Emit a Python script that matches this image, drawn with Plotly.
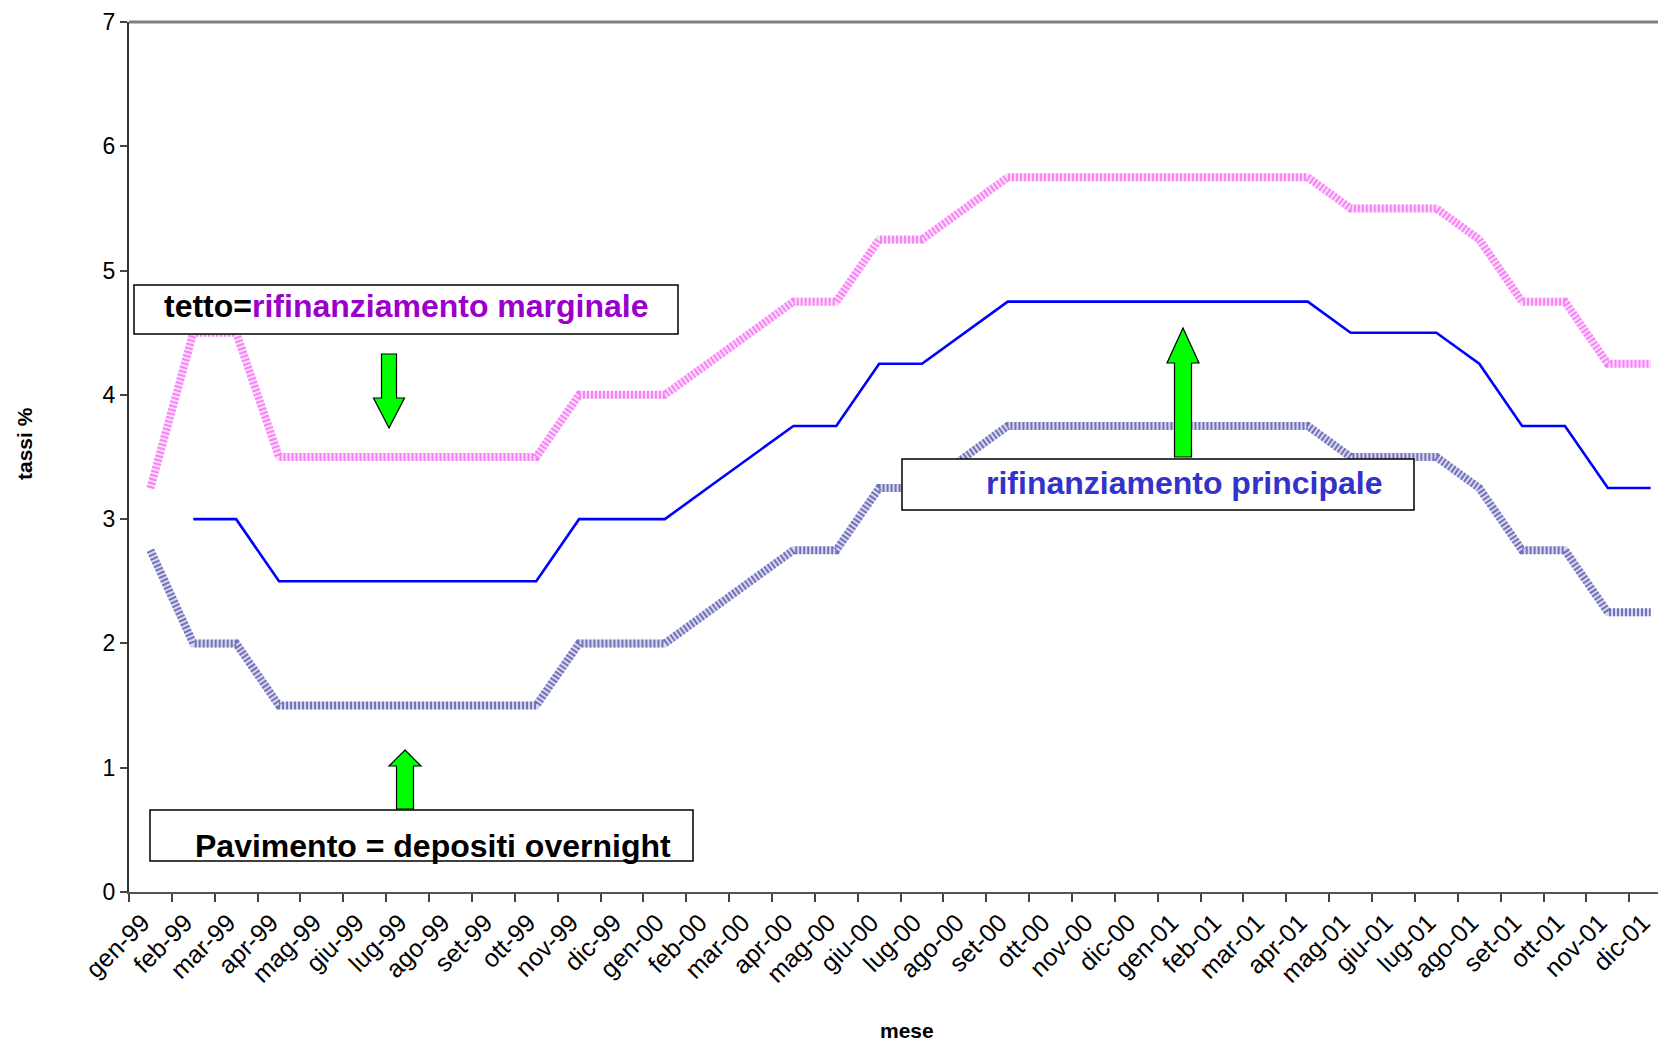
import plotly.graph_objects as go

# Months, Jan 1999 - Dec 2001
mesi = ["gen-99", "feb-99", "mar-99", "apr-99", "mag-99", "giu-99", "lug-99", "ago-99",
        "set-99", "ott-99", "nov-99", "dic-99",
        "gen-00", "feb-00", "mar-00", "apr-00", "mag-00", "giu-00", "lug-00", "ago-00",
        "set-00", "ott-00", "nov-00", "dic-00",
        "gen-01", "feb-01", "mar-01", "apr-01", "mag-01", "giu-01", "lug-01", "ago-01",
        "set-01", "ott-01", "nov-01", "dic-01"]

# Marginal lending facility (ceiling of the corridor)
rifinanziamento_marginale = [3.25, 4.5, 4.5, 3.5, 3.5, 3.5, 3.5, 3.5, 3.5, 3.5, 4.0, 4.0,
                             4.0, 4.25, 4.5, 4.75, 4.75, 5.25, 5.25, 5.5, 5.75, 5.75, 5.75, 5.75,
                             5.75, 5.75, 5.75, 5.75, 5.5, 5.5, 5.5, 5.25, 4.75, 4.75, 4.25, 4.25]

# Main refinancing operations
rifinanziamento_principale = [None, 3.0, 3.0, 2.5, 2.5, 2.5, 2.5, 2.5, 2.5, 2.5, 3.0, 3.0,
                              3.0, 3.25, 3.5, 3.75, 3.75, 4.25, 4.25, 4.5, 4.75, 4.75, 4.75, 4.75,
                              4.75, 4.75, 4.75, 4.75, 4.5, 4.5, 4.5, 4.25, 3.75, 3.75, 3.25, 3.25]

# Deposit facility (floor of the corridor)
depositi_overnight = [2.75, 2.0, 2.0, 1.5, 1.5, 1.5, 1.5, 1.5, 1.5, 1.5, 2.0, 2.0,
                      2.0, 2.25, 2.5, 2.75, 2.75, 3.25, 3.25, 3.5, 3.75, 3.75, 3.75, 3.75,
                      3.75, 3.75, 3.75, 3.75, 3.5, 3.5, 3.5, 3.25, 2.75, 2.75, 2.25, 2.25]

y_ticks = [0, 1, 2, 3, 4, 5, 6, 7]

W, H = 1658, 1045
ML, MR, MT, MB = 129, 0, 22, 153
PW, PH = W - ML - MR, H - MT - MB


def px(x):
    return (x - ML) / PW


def py(y):
    return (H - MB - y) / PH


fig = go.Figure()


# textured "band" lines: pale base plus a fine dashed overlay
def band(values, base, ink):
    fig.add_trace(go.Scatter(x=mesi, y=values, mode="lines",
                             line=dict(color=base, width=8), hoverinfo="skip"))
    fig.add_trace(go.Scatter(x=mesi, y=values, mode="lines",
                             line=dict(color=ink, width=8, dash="2px,2px"), hoverinfo="skip"))


band(rifinanziamento_marginale, "#FCDDFC", "rgba(245,40,245,0.5)")
fig.add_trace(go.Scatter(x=mesi, y=rifinanziamento_principale, mode="lines",
                         line=dict(color="#0000FF", width=2.6), connectgaps=False))
band(depositi_overnight, "#D8D8EC", "rgba(30,30,150,0.55)")

shapes = []
annotations = []

# plot frame: top border
shapes.append(dict(type="line", xref="paper", yref="paper", x0=0, x1=1, y0=1, y1=1,
                   line=dict(color="#808080", width=3)))


def box(x0, y0, x1, y1):
    shapes.append(dict(type="rect", xref="paper", yref="paper",
                       x0=px(x0), x1=px(x1), y0=py(y1), y1=py(y0),
                       fillcolor="white", line=dict(color="black", width=1.5), layer="above"))


def arrow(cx, tip, base, head_w, shaft_w, head_len):
    # vertical block arrow; tip above base -> points up, else down
    d = 1 if tip < base else -1
    hb = tip + d * head_len
    pts = [(cx, tip), (cx + head_w / 2, hb), (cx + shaft_w / 2, hb), (cx + shaft_w / 2, base),
           (cx - shaft_w / 2, base), (cx - shaft_w / 2, hb), (cx - head_w / 2, hb)]
    path = "M " + " L ".join(f"{px(a):.5f},{py(b):.5f}" for a, b in pts) + " Z"
    shapes.append(dict(type="path", xref="paper", yref="paper", path=path,
                       fillcolor="#00FF00", line=dict(color="black", width=1.2), layer="above"))


FONT = "Liberation Sans, Arial, sans-serif"

# ceiling label
box(134, 285, 678, 334)
annotations.append(dict(xref="paper", yref="paper", x=px(406), y=py(306), showarrow=False,
                        text="<b>tetto=<span style='color:#9900CC'>rifinanziamento marginale</span></b>",
                        font=dict(family=FONT, size=32, color="black"),
                        xanchor="center", yanchor="middle"))
arrow(389, 428, 354, 31, 15, 30)

# main refinancing label
box(902, 459, 1414, 510)
annotations.append(dict(xref="paper", yref="paper", x=px(1184), y=py(483), showarrow=False,
                        text="<b>rifinanziamento principale</b>",
                        font=dict(family=FONT, size=32, color="#3333CC"),
                        xanchor="center", yanchor="middle"))
arrow(1183, 328, 457, 32, 17, 35)

# floor label
box(150, 810, 693, 861)
annotations.append(dict(xref="paper", yref="paper", x=px(433), y=py(846), showarrow=False,
                        text="<b>Pavimento = depositi overnight</b>",
                        font=dict(family=FONT, size=32, color="black"),
                        xanchor="center", yanchor="middle"))
arrow(405, 750, 809, 32, 17, 16)

# axis titles
annotations.append(dict(xref="paper", yref="paper", x=px(907), y=py(1030), showarrow=False,
                        text="<b>mese</b>", font=dict(family=FONT, size=21, color="black"),
                        xanchor="center", yanchor="middle"))
annotations.append(dict(xref="paper", yref="paper", x=px(24), y=py(444), showarrow=False,
                        text="<b>tassi %</b>", textangle=-90,
                        font=dict(family=FONT, size=21, color="black"),
                        xanchor="center", yanchor="middle"))

fig.update_layout(
    width=W, height=H,
    margin=dict(l=ML, r=MR, t=MT, b=MB),
    paper_bgcolor="white", plot_bgcolor="white",
    showlegend=False,
    font=dict(family=FONT, color="black"),
    shapes=shapes,
    annotations=annotations,
    xaxis=dict(type="category", categoryorder="array", categoryarray=mesi,
               range=[-0.5, 35.17],
               tickangle=-45, tickson="boundaries", ticks="outside", ticklen=8,
               tickcolor="#444", tickwidth=1.5,
               ticklabelshift=-8, ticklabelstandoff=4,
               showline=True, linecolor="#555", linewidth=2, showgrid=False,
               tickfont=dict(size=25, family=FONT, color="black")),
    yaxis=dict(range=[0, 7], tickvals=y_ticks, ticks="outside", ticklen=7,
               tickcolor="#444", tickwidth=1.5,
               showline=True, linecolor="#333", linewidth=2, showgrid=False, zeroline=False,
               tickfont=dict(size=23, family=FONT, color="black")),
)

fig.write_html("out.html")
